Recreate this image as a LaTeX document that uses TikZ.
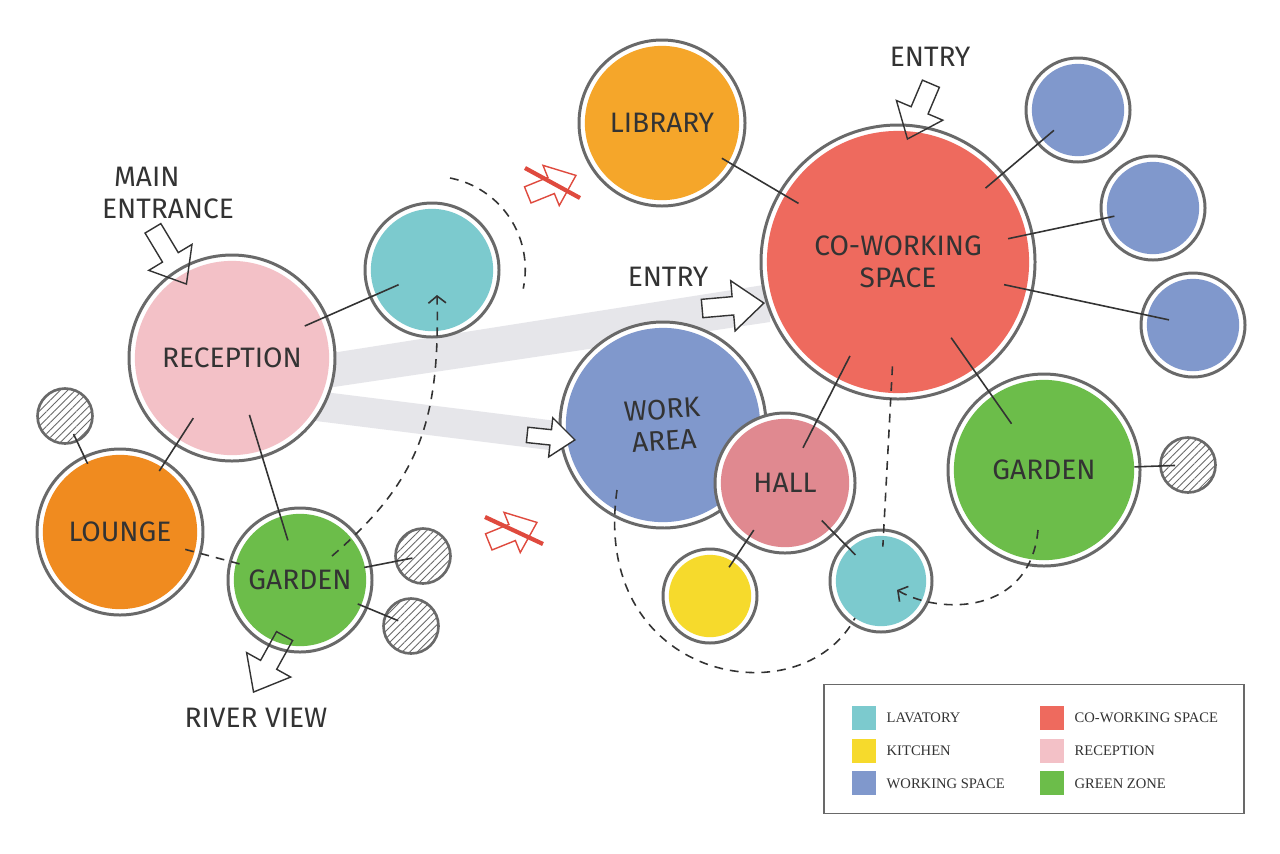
\documentclass[tikz,border=0pt]{standalone}
\usepackage{fontspec}
\usetikzlibrary{positioning,calc,shapes.arrows,arrows.meta,patterns.meta}
\newfontfamily\handfont{Fira Sans}
\newfontfamily\legendfont{Liberation Serif}
\definecolor{ring}{HTML}{696969}
\definecolor{ink}{HTML}{333333}
\definecolor{bandgray}{HTML}{E6E6EA}
\definecolor{lavcol}{HTML}{7CCACE}
\definecolor{kitcol}{HTML}{F6DA2C}
\definecolor{workcol}{HTML}{8098CC}
\definecolor{cowcol}{HTML}{EE6A5E}
\definecolor{reccol}{HTML}{F3C1C7}
\definecolor{greencol}{HTML}{6CBD4A}
\definecolor{loungecol}{HTML}{F08B1F}
\definecolor{librarycol}{HTML}{F5A62A}
\definecolor{hallcol}{HTML}{E08990}
\definecolor{nogo}{HTML}{DF4A3E}
\tikzset{
  room/.style 2 args={circle, inner sep=0pt, minimum size=#2*0.02cm,
    draw=ring, line width=1.7pt, fill=white,
    path picture={\fill[#1] (path picture bounding box.center) circle ({#2*0.01cm-3.3pt});},
    font=\handfont\fontsize{16}{18}\selectfont, text=ink, align=center},
  hatched/.style={circle, inner sep=0pt, minimum size=1.1cm, draw=ring, line width=1.5pt,
    pattern={Lines[angle=45,distance=3pt,line width=0.5pt]}, pattern color=ring},
  link/.style 2 args={draw=ink, line width=0.9pt, shorten <=-#1*0.02cm, shorten >=-#2*0.02cm},
  flow/.style={draw=ink, line width=0.9pt, dash pattern=on 5pt off 4pt},
  barb/.style={-{Straight Barb[length=4pt,width=10pt]}},
  gate/.style={single arrow, anchor=tip, draw=ink, line width=0.8pt, inner xsep=0pt,
    inner ysep=0.17cm, single arrow head extend=0.32cm, single arrow tip angle=78,
    minimum height=#1*0.02cm},
  nogoline/.style={draw=nogo, line width=2.4pt},
  tag/.style={font=\handfont\fontsize{16}{18}\selectfont, text=ink, inner sep=0pt},
  swatch/.style={minimum size=0.48cm, inner sep=0pt},
  keytext/.style={font=\legendfont\fontsize{8.3}{10}\selectfont, text=ink, inner sep=0pt}
}
\begin{document}
\begin{tikzpicture}[x=0.02cm, y=-0.02cm]
  \useasboundingbox (0,0) rectangle (1280,853);
  \fill[white] (0,0) rectangle (1280,853);

  % circulation bands
  \fill[bandgray] (300,358) -- (770,284) -- (770,322) -- (300,392) -- cycle;
  \fill[bandgray] (300,389) -- (565,422) -- (565,452) -- (300,419) -- cycle;

  % rooms
  \node[room={reccol}{206}] (rec) at (232,358) {RECEPTION};
  \node[room={lavcol}{134}] (lavA) at (432,270) {};
  \node[room={loungecol}{166}] (lounge) at (120,532) {LOUNGE};
  \node[room={greencol}{144}] (gardenL) at (300,580) {GARDEN};
  \node[room={librarycol}{166}] (library) at (662,123) {LIBRARY};
  \node[room={cowcol}{274}] (cowork) at (898,262) {CO-WORKING\\SPACE};
  \node[room={workcol}{104}] (deskA) at (1078,110) {};
  \node[room={workcol}{104}] (deskB) at (1153,208) {};
  \node[room={workcol}{104}] (deskC) at (1193,325) {};
  \node[room={workcol}{206}, rotate=4] (work) at (663,425) {WORK\\AREA};
  \node[room={hallcol}{140}] (hall) at (785,483) {HALL};
  \node[room={kitcol}{94}] (kitchen) at (710,596) {};
  \node[room={lavcol}{102}] (lavB) at (881,581) {};
  \node[room={greencol}{192}] (gardenR) at (1044,470) {GARDEN};
  \node[hatched] (treeA) at (65,416) {};
  \node[hatched] (treeB) at (423,556) {};
  \node[hatched] (treeC) at (411,626) {};
  \node[hatched] (treeD) at (1188,465) {};

  \draw[link={25}{32}] (rec) -- (lavA);
  \draw[link={33}{12}] (rec) -- (lounge);
  \draw[link={45}{32}] (rec) -- (gardenL);
  \draw[link={9}{8}] (lounge) -- (treeA);
  \draw[link={8}{18}] (gardenL) -- (treeB);
  \draw[link={11}{15}] (gardenL) -- (treeC);
  \draw[link={15}{23}] (library) -- (cowork);
  \draw[link={24}{22}] (cowork) -- (deskA);
  \draw[link={26}{14}] (cowork) -- (deskB);
  \draw[link={30}{29}] (cowork) -- (deskC);
  \draw[link={46}{41}] (cowork) -- (gardenR);
  \draw[link={33}{32}] (cowork) -- (hall);
  \draw[link={15}{14}] (hall) -- (kitchen);
  \draw[link={19}{16}] (hall) -- (lavB);
  \draw[link={7}{16}] (gardenR) -- (treeD);

  % movement
  \draw[flow, barb] ($(gardenL)+(32,-24)$) .. controls (420,480) and (440,420) .. ($(lavA)+(5,25)$);
  \draw[flow] ($(lavA)+(18,-92)$) arc[start angle=-79, end angle=12, radius=93];
  \draw[flow, shorten <=-17*0.02cm, shorten >=-15*0.02cm] (lounge) -- (gardenL);
  \draw[flow] ($(work)+(-46,65)$) .. controls (590,680) and (800,720) .. ($(lavB)+(-26,37)$);
  \draw[flow, shorten <=-34*0.02cm, shorten >=-18*0.02cm] (cowork) -- (lavB);
  \draw[flow, barb] ($(gardenR)+(-6,60)$) .. controls (1030,615) and (940,615) .. ($(lavB)+(16,9)$);

  % entries
  \node[gate=65, rotate=-59] (mainGate) at (187,285) {};
  \node[gate=60, rotate=-113] (topGate) at (907,140) {};
  \node[gate=62, rotate=5, fill=white] (coGate) at (765,303) {};
  \node[gate=48, rotate=-6, fill=white, inner ysep=0.14cm, single arrow head extend=0.24cm] (workGate) at (576,440) {};
  \node[gate=64, rotate=-119] (riverGate) at (253,693) {};
  \node[gate=52, rotate=22, draw=nogo, inner ysep=0.16cm, single arrow head extend=0.26cm] (noGateA) at (577,175) {};
  \node[gate=52, rotate=22, draw=nogo, inner ysep=0.16cm, single arrow head extend=0.26cm] (noGateB) at (538,522) {};
  \draw[nogoline] ($(noGateA.tip)+(-52,-7)$) -- ($(noGateA.tip)+(3,23)$);
  \draw[nogoline] ($(noGateB.tip)+(-53,-5)$) -- ($(noGateB.tip)+(5,22)$);

  \node[tag, align=left] (mainTag) at (168,193) {\hspace*{0.24cm}MAIN\\ENTRANCE};
  \node[tag] (topTag) at (930,57) {ENTRY};
  \node[tag] (coTag) at (668,277) {ENTRY};
  \node[tag] (riverTag) at (256,718) {RIVER VIEW};

  % legend
  \node[draw=ring, line width=1pt, minimum width=8.4cm, minimum height=2.58cm] (legend) at (1034,749) {};
  \node[swatch, fill=lavcol] (keyLav) at (864,718) {};
  \node[swatch, fill=kitcol, below=0.16cm of keyLav] (keyKit) {};
  \node[swatch, fill=workcol, below=0.16cm of keyKit] (keyWork) {};
  \node[swatch, fill=cowcol] (keyCow) at (1052,718) {};
  \node[swatch, fill=reccol, below=0.16cm of keyCow] (keyRec) {};
  \node[swatch, fill=greencol, below=0.16cm of keyRec] (keyGreen) {};
  \node[keytext, right=0.2cm of keyLav] (txtLav) {LAVATORY};
  \node[keytext, right=0.2cm of keyKit] (txtKit) {KITCHEN};
  \node[keytext, right=0.2cm of keyWork] (txtWork) {WORKING SPACE};
  \node[keytext, right=0.2cm of keyCow] (txtCow) {CO-WORKING SPACE};
  \node[keytext, right=0.2cm of keyRec] (txtRec) {RECEPTION};
  \node[keytext, right=0.2cm of keyGreen] (txtGreen) {GREEN ZONE};
\end{tikzpicture}
\end{document}
